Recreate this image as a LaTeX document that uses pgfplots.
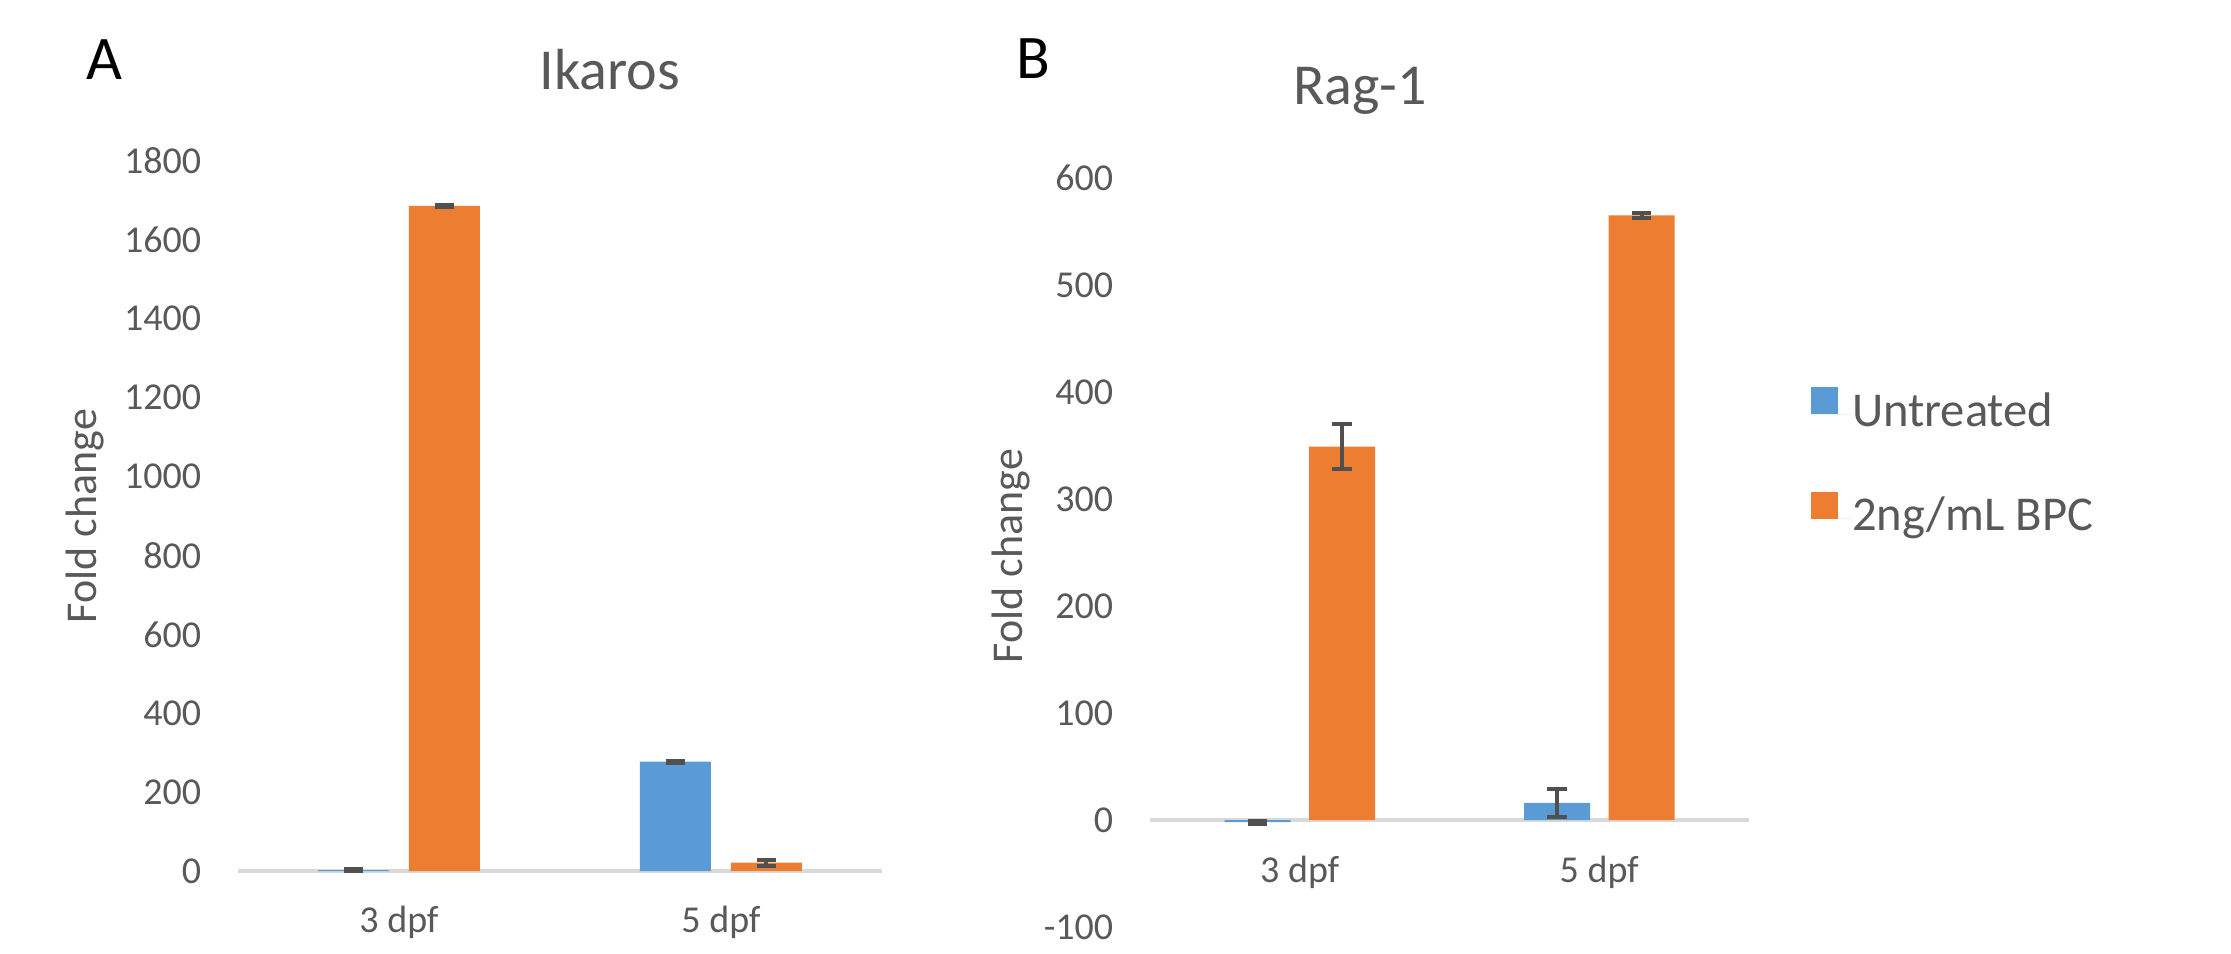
\documentclass[border=0pt]{standalone}
\usepackage{fontspec}
\setmainfont{Carlito}
\usepackage{pgfplots}
\usepackage{pgfplotstable}
\pgfplotsset{compat=1.18}
\definecolor{cblue}{HTML}{5B9BD5}
\definecolor{corange}{HTML}{ED7D31}
\definecolor{txtgray}{HTML}{595959}
\definecolor{errgray}{HTML}{505050}
\definecolor{axgray}{HTML}{D9D9D9}

\pgfplotstableread{
x un unerr bpc bpcerr
0 2 2 1686 3
1 277 3 21 8
}\ikaros
\pgfplotstableread{
x un unerr bpc bpcerr
0 -2 1.5 349 21
1 16 13 565 2
}\ragone

\pgfplotsset{
  common/.style={
    scale only axis, clip=false,
    xmin=-0.5, xmax=1.5,
    xtick={0,1}, xticklabels={3 dpf, 5 dpf},
    axis line style={draw=none},
    major tick length=0pt,
    tick style={draw=none},
    xtick pos=bottom, ytick pos=left,
    ticklabel style={font=\fontsize{9.5}{11}\selectfont, text=txtgray},
    yticklabel style={anchor=east, inner sep=0pt, xshift=-9pt},
    extra y ticks={0}, extra y tick labels={},
    extra y tick style={grid=major, major grid style={draw=axgray, line width=1pt}},
  },
  errs/.style={error bars/.cd, y dir=both, y explicit,
    error bar style={draw=errgray, line width=1pt},
    error mark=-,
    error mark options={rotate=90, draw=errgray, line width=1pt, mark size=2.4pt}},
}

\begin{document}
\begin{tikzpicture}
\path[use as bounding box] (0,0) rectangle (557.75pt,238.5pt);

% Panel A
\begin{axis}[common,
  at={(59.5pt,20.75pt)}, anchor=south west,
  width=161pt, height=177.5pt,
  ymin=0, ymax=1800,
  ytick={0,200,...,1800},
  yticklabels={0,200,400,600,800,1000,1200,1400,1600,1800},
  xticklabel style={anchor=base, inner sep=0pt, yshift=-15.5pt},
  ybar=5pt, bar width=17.75pt,
]
\addplot[fill=cblue, draw=none, errs] table[x=x, y=un, y error=unerr] {\ikaros};
\addplot[fill=corange, draw=none, errs] table[x=x, y=bpc, y error=bpcerr] {\ikaros};
\end{axis}

% Panel B
\begin{axis}[common,
  at={(287.5pt,6.75pt)}, anchor=south west,
  width=149.75pt, height=187.25pt,
  ymin=-100, ymax=600,
  ytick={-100,0,...,600},
  yticklabels={-100,0,100,200,300,400,500,600},
  xticklabel style={anchor=base, inner sep=0pt, yshift=11pt},
  ybar=4.625pt, bar width=16.5pt,
  legend style={draw=none, fill=none, inner sep=0pt, outer sep=0pt,
    at={(1.10351,0.72096)}, anchor=north west,
    font=\fontsize{12.15}{14}\selectfont, text=txtgray,
    row sep=14.375pt,
    nodes={inner sep=0pt, text height=8pt, text depth=2pt}},
  legend cell align=left,
  legend image code/.code={\fill[#1] (0pt,0pt) rectangle (6.75pt,6.75pt); \path (0pt,0pt) -- (10.25pt,0pt);},
]
\addplot[fill=cblue, draw=none, errs] table[x=x, y=un, y error=unerr] {\ragone};
\addlegendentry{Untreated}
\addplot[fill=corange, draw=none, errs] table[x=x, y=bpc, y error=bpcerr] {\ragone};
\addlegendentry{2ng/mL BPC}
\end{axis}

% titles, labels
\node[anchor=base, text=black, font=\fontsize{15.5}{18}\selectfont] at (26pt,218.5pt) {A};
\node[anchor=base, text=black, font=\fontsize{15.5}{18}\selectfont] at (258.25pt,218.75pt) {B};
\node[anchor=base, text=txtgray, font=\fontsize{14.5}{17}\selectfont] at (152.5pt,216pt) {Ikaros};
\node[anchor=base, text=txtgray, font=\fontsize{14.5}{17}\selectfont] at (340pt,212.25pt) {Rag-1};
\node[rotate=90, text=txtgray, font=\fontsize{11}{13}\selectfont] at (21.25pt,109.5pt) {Fold change};
\node[rotate=90, text=txtgray, font=\fontsize{11}{13}\selectfont] at (252.75pt,99.5pt) {Fold change};
\end{tikzpicture}
\end{document}
